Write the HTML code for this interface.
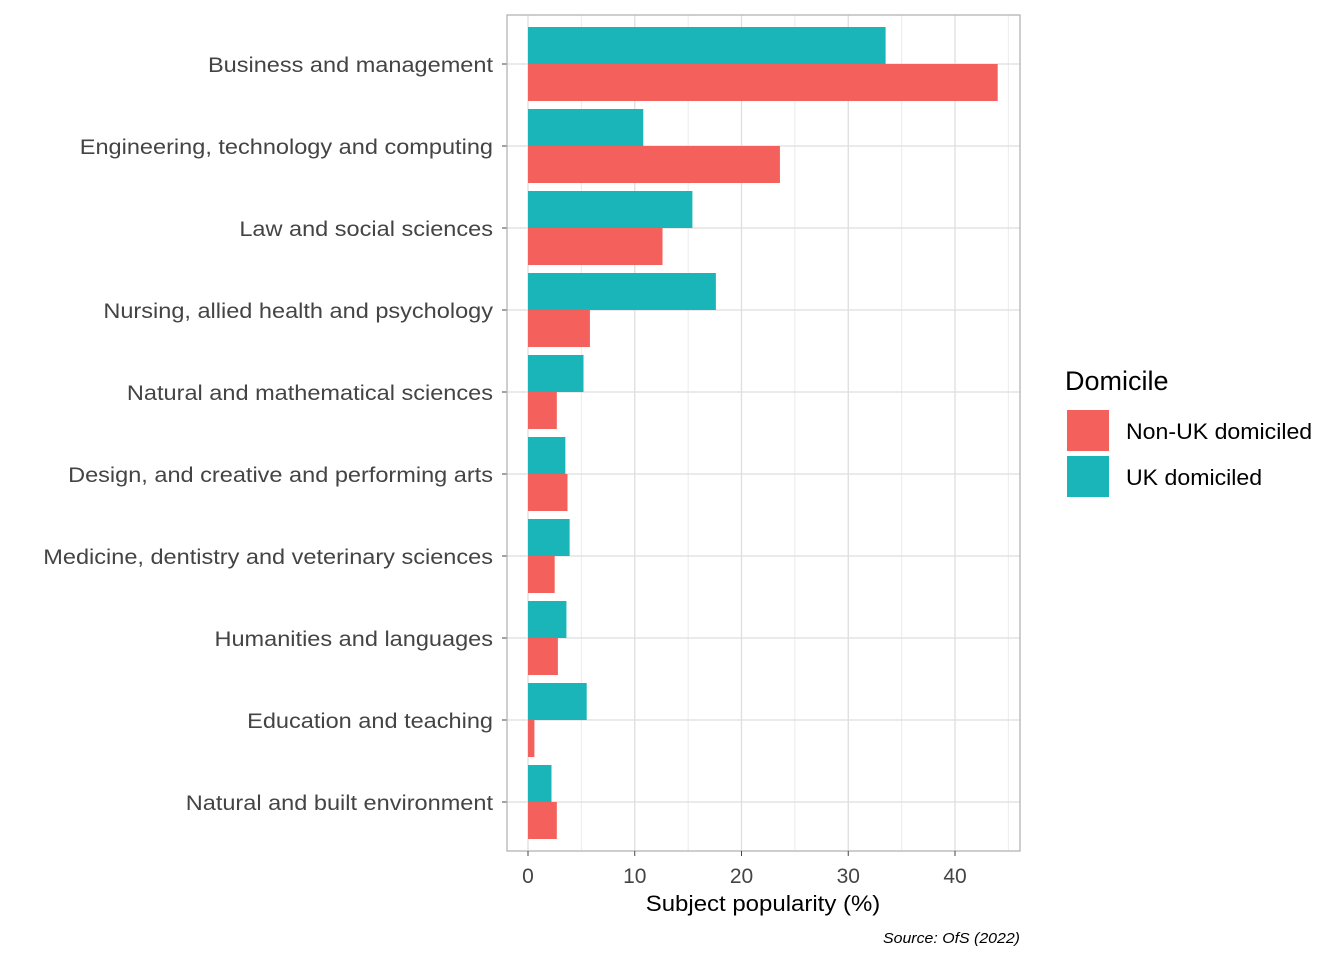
<!DOCTYPE html>
<html><head><meta charset="utf-8"><style>
body{margin:0;background:#fff;}
svg text{font-family:"Liberation Sans",Arial,sans-serif;}
</style></head><body>
<svg id="c" width="1344" height="960" xmlns="http://www.w3.org/2000/svg"></svg>
<script>
const categories=["Business and management","Engineering, technology and computing","Law and social sciences","Nursing, allied health and psychology","Natural and mathematical sciences","Design, and creative and performing arts","Medicine, dentistry and veterinary sciences","Humanities and languages","Education and teaching","Natural and built environment"];
const ukValues=[33.5,10.8,15.4,17.6,5.2,3.5,3.9,3.6,5.5,2.2];
const nonUkValues=[44.0,23.6,12.6,5.8,2.7,3.7,2.5,2.8,0.6,2.7];
const xTicks=[0,10,20,30,40];
const xMinor=[5,15,25,35,45];
const svg=document.getElementById('c');
const NS='http://www.w3.org/2000/svg';
const pL=507,pR=1020,pT=15,pB=851;
const x=v=>528+v*10.675;
const y=i=>64+i*82;
const bh=37;
function el(t,a,txt){const e=document.createElementNS(NS,t);for(const k in a)e.setAttribute(k,a[k]);if(txt!==undefined)e.textContent=txt;svg.appendChild(e);return e;}
function widen(e,r){const w=e.getComputedTextLength();e.setAttribute('textLength',w*r);e.setAttribute('lengthAdjust','spacingAndGlyphs');}
let e;
xMinor.forEach(v=>{if(x(v)<pR){e=el('line',{x1:x(v),x2:x(v),y1:pT,y2:pB,stroke:'#ebebeb','stroke-width':1});

}});
xTicks.forEach(v=>{e=el('line',{x1:x(v),x2:x(v),y1:pT,y2:pB,stroke:'#dedede','stroke-width':1.3});

});
categories.forEach((c,i)=>{e=el('line',{x1:pL,x2:pR,y1:y(i),y2:y(i),stroke:'#dedede','stroke-width':1.3});

});
categories.forEach((c,i)=>{
e=el('rect',{x:x(0),y:y(i)-bh,width:x(ukValues[i])-x(0),height:bh,fill:'#19b5b8'});


e=el('rect',{x:x(0),y:y(i),width:x(nonUkValues[i])-x(0),height:bh,fill:'#f4605c'});


e=el('text',{x:493,y:y(i)+8,'text-anchor':'end','font-size':21,fill:'#444'},c);


widen(e,1.12);
e=el('line',{x1:502,x2:507,y1:y(i),y2:y(i),stroke:'#444','stroke-width':1});


});
e=el('rect',{x:pL,y:pT,width:pR-pL,height:pB-pT,fill:'none',stroke:'#b3b3b3','stroke-width':1.3});


xTicks.forEach(v=>{
e=el('line',{x1:x(v),x2:x(v),y1:pB,y2:pB+5,stroke:'#444'});


e=el('text',{x:x(v),y:883,'text-anchor':'middle','font-size':21,fill:'#444'},String(v));


});
e=el('text',{x:763,y:911,'text-anchor':'middle','font-size':22,fill:'#000'},'Subject popularity (%)');


widen(e,1.09);
e=el('text',{x:1020,y:943,'text-anchor':'end','font-size':15,'font-style':'italic',fill:'#000'},'Source: OfS (2022)');


widen(e,1.06);
e=el('text',{x:1065,y:390,'font-size':27,fill:'#000'},'Domicile');


e=el('rect',{x:1067,y:410,width:42,height:41,fill:'#f4605c'});


e=el('text',{x:1126,y:439,'font-size':22,fill:'#000'},'Non-UK domiciled');


widen(e,1.05);
e=el('rect',{x:1067,y:456,width:42,height:41,fill:'#19b5b8'});


e=el('text',{x:1126,y:485,'font-size':22,fill:'#000'},'UK domiciled');


widen(e,1.05);
</script>
</body></html>
